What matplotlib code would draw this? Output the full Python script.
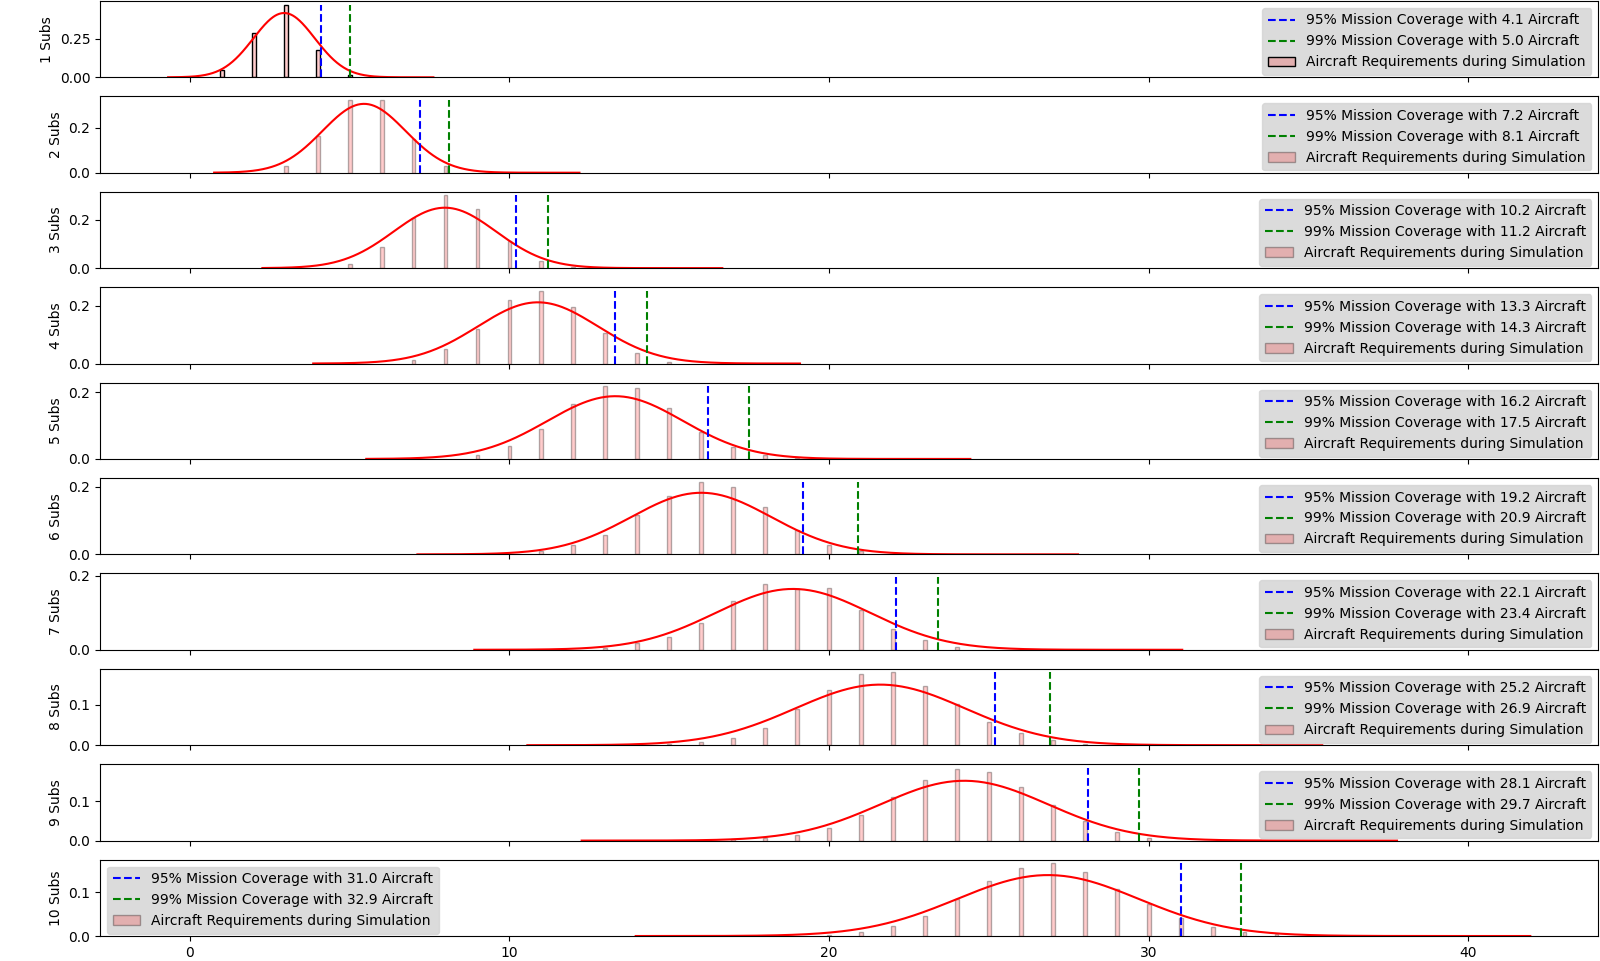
import numpy as np
import matplotlib
matplotlib.use("Agg")
import matplotlib.pyplot as plt

# number of subs per panel
subs = [1, 2, 3, 4, 5, 6, 7, 8, 9, 10]

# first aircraft count with a bar in each panel
first_x = [1, 3, 5, 7, 9, 11, 13, 15, 17, 20]

# share of simulation time needing that many aircraft
heights = [
    [0.046, 0.285, 0.470, 0.175, 0.012],
    [0.030, 0.164, 0.324, 0.324, 0.150, 0.030],
    [0.017, 0.088, 0.208, 0.300, 0.242, 0.113, 0.029, 0.004],
    [0.011, 0.049, 0.118, 0.221, 0.252, 0.195, 0.105, 0.036, 0.006],
    [0.012, 0.039, 0.090, 0.164, 0.218, 0.212, 0.152, 0.081, 0.036, 0.012, 0.003],
    [0.009, 0.027, 0.057, 0.116, 0.173, 0.215, 0.200, 0.140, 0.072, 0.027, 0.009],
    [0.005, 0.019, 0.035, 0.073, 0.132, 0.178, 0.165, 0.168, 0.108, 0.057, 0.027, 0.008],
    [0.003, 0.008, 0.018, 0.043, 0.090, 0.136, 0.177, 0.180, 0.146, 0.101, 0.057, 0.030, 0.012, 0.003],
    [0.003, 0.007, 0.013, 0.033, 0.066, 0.111, 0.155, 0.183, 0.174, 0.137, 0.091, 0.051, 0.022, 0.007],
    [0.002, 0.009, 0.023, 0.047, 0.084, 0.126, 0.156, 0.167, 0.147, 0.109, 0.074, 0.042, 0.021, 0.009, 0.005],
]

# height the coverage lines reach
line_top = [0.470, 0.324, 0.300, 0.252, 0.218, 0.215, 0.197, 0.180, 0.185, 0.167]

# fitted normal curve per panel
means = [2.95, 5.45, 7.98, 10.89, 13.31, 16.0, 18.87, 21.6, 24.23, 26.85]
sds = [0.96, 1.30, 1.60, 1.88, 2.12, 2.19, 2.42, 2.66, 2.62, 2.85]
curve_lo = [-0.68, 0.76, 2.27, 3.86, 5.52, 7.12, 8.9, 10.56, 12.26, 13.95]
curve_hi = [7.62, 12.19, 16.66, 19.09, 24.42, 27.79, 31.05, 35.43, 37.77, 41.94]

# coverage levels
q95 = [4.1, 7.2, 10.2, 13.3, 16.2, 19.2, 22.1, 25.2, 28.1, 31.0]
q99 = [5.0, 8.1, 11.2, 14.3, 17.5, 20.9, 23.4, 26.9, 29.7, 32.9]

fig, axes = plt.subplots(len(subs), 1, sharex=True, figsize=(16, 9.61), dpi=100)
fig.subplots_adjust(left=0.0625, right=0.999, top=0.999, bottom=0.026, hspace=0.25)

for i, ax in enumerate(axes):
    h = np.array(heights[i])
    x = first_x[i] + np.arange(len(h))
    edge = 'black' if i == 0 else (0, 0, 0, 0.3)
    bars = ax.bar(x, h, width=0.12, facecolor=(1, 0, 0, 0.2), edgecolor=edge, linewidth=1.0)

    xs = np.linspace(curve_lo[i], curve_hi[i], 400)
    pdf = np.exp(-0.5 * ((xs - means[i]) / sds[i]) ** 2) / (sds[i] * np.sqrt(2 * np.pi))
    ax.plot(xs, pdf, color='red', linewidth=1.5)

    l95 = ax.vlines(q95[i], 0, line_top[i], colors='blue', linestyles='--', linewidth=1.5)
    l99 = ax.vlines(q99[i], 0, line_top[i], colors='green', linestyles='--', linewidth=1.5)

    ax.set_ylabel('%d Subs' % subs[i])
    loc = 'upper left' if i == len(subs) - 1 else 'upper right'
    ax.legend([l95, l99, bars],
              ['95%% Mission Coverage with %.1f Aircraft' % q95[i],
               '99%% Mission Coverage with %.1f Aircraft' % q99[i],
               'Aircraft Requirements during Simulation'],
              loc=loc, facecolor='lightgray', framealpha=0.8, edgecolor='lightgray')

fig.savefig('out.png')
